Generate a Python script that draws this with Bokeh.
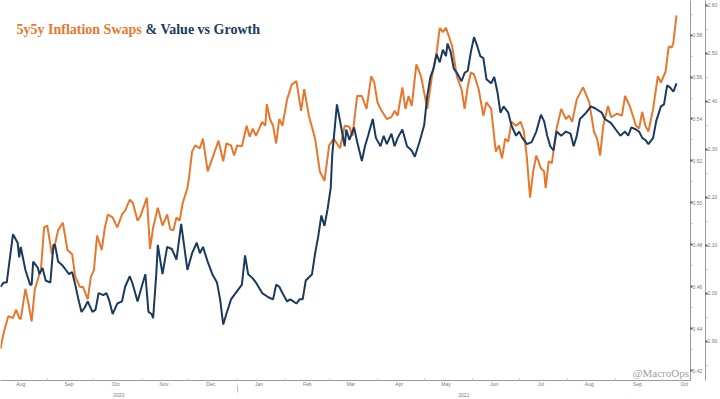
import pandas as pd
from bokeh.plotting import figure
from bokeh.models import (Range1d, LinearAxis, DatetimeAxis, FixedTicker,
                          DatetimeTickFormatter, NumeralTickFormatter, Label)
from bokeh.embed import file_html
from bokeh.resources import INLINE

# ---------------- data ----------------
infl_dates = [
    "2020-08-02", "2020-08-04", "2020-08-07", "2020-08-10", "2020-08-12", "2020-08-14", "2020-08-15",
    "2020-08-18", "2020-08-20", "2020-08-22", "2020-08-24", "2020-08-28", "2020-08-30", "2020-09-01",
    "2020-09-04", "2020-09-06", "2020-09-08", "2020-09-11", "2020-09-14", "2020-09-17", "2020-09-19",
    "2020-09-22", "2020-09-24", "2020-09-27", "2020-09-29", "2020-10-01", "2020-10-03", "2020-10-06",
    "2020-10-08", "2020-10-10", "2020-10-13", "2020-10-16", "2020-10-19", "2020-10-21", "2020-10-24",
    "2020-10-26", "2020-10-29", "2020-10-31", "2020-11-04", "2020-11-06", "2020-11-08", "2020-11-11",
    "2020-11-14", "2020-11-17", "2020-11-19", "2020-11-21", "2020-11-23", "2020-11-25", "2020-11-27",
    "2020-11-30", "2020-12-01", "2020-12-03", "2020-12-05", "2020-12-08", "2020-12-10", "2020-12-13",
    "2020-12-16", "2020-12-20", "2020-12-23", "2020-12-25", "2020-12-28", "2020-12-30", "2021-01-01",
    "2021-01-04", "2021-01-07", "2021-01-09", "2021-01-11", "2021-01-13", "2021-01-17", "2021-01-19",
    "2021-01-20", "2021-01-22", "2021-01-24", "2021-01-26", "2021-01-28", "2021-01-30", "2021-02-02",
    "2021-02-05", "2021-02-08", "2021-02-11", "2021-02-13", "2021-02-16", "2021-02-20", "2021-02-23",
    "2021-02-26", "2021-03-01", "2021-03-04", "2021-03-08", "2021-03-11", "2021-03-14", "2021-03-16",
    "2021-03-19", "2021-03-22", "2021-03-25", "2021-03-28", "2021-03-30", "2021-04-01", "2021-04-03",
    "2021-04-07", "2021-04-10", "2021-04-12", "2021-04-14", "2021-04-17", "2021-04-19", "2021-04-21",
    "2021-04-23", "2021-04-26", "2021-04-29", "2021-05-03", "2021-05-06", "2021-05-09", "2021-05-11",
    "2021-05-13", "2021-05-15", "2021-05-17", "2021-05-19", "2021-05-22", "2021-05-25", "2021-05-27",
    "2021-05-29", "2021-05-31", "2021-06-02", "2021-06-05", "2021-06-08", "2021-06-10", "2021-06-13",
    "2021-06-16", "2021-06-18", "2021-06-20", "2021-06-22", "2021-06-24", "2021-06-26", "2021-06-29",
    "2021-07-02", "2021-07-04", "2021-07-06", "2021-07-08", "2021-07-10", "2021-07-12", "2021-07-15",
    "2021-07-17", "2021-07-18", "2021-07-20", "2021-07-22", "2021-07-25", "2021-07-28", "2021-07-31",
    "2021-08-02", "2021-08-04", "2021-08-07", "2021-08-11", "2021-08-15", "2021-08-18", "2021-08-20",
    "2021-08-22", "2021-08-24", "2021-08-27", "2021-08-29", "2021-09-02", "2021-09-05", "2021-09-07",
    "2021-09-10", "2021-09-14", "2021-09-16", "2021-09-18", "2021-09-20", "2021-09-22", "2021-09-25",
    "2021-09-28", "2021-09-30", "2021-10-03", "2021-10-05", "2021-10-07", "2021-10-08", "2021-10-10",
]
infl_values = [
    1.884, 1.917, 1.952, 1.948, 1.966, 1.948, 1.946,
    2.009, 1.978, 1.941, 2.007, 2.051, 2.137, 2.141,
    2.081, 2.102, 2.131, 2.147, 2.090, 2.081, 2.034,
    2.013, 2.013, 1.987, 2.034, 2.048, 2.120, 2.090,
    2.137, 2.164, 2.158, 2.137, 2.164, 2.172, 2.195,
    2.188, 2.151, 2.162, 2.199, 2.092, 2.137, 2.178,
    2.141, 2.164, 2.133, 2.131, 2.158, 2.151, 2.188,
    2.219, 2.240, 2.295, 2.308, 2.302, 2.322, 2.254,
    2.281, 2.318, 2.275, 2.312, 2.308, 2.287, 2.308,
    2.306, 2.349, 2.326, 2.343, 2.328, 2.357, 2.349,
    2.394, 2.363, 2.349, 2.312, 2.363, 2.349, 2.404,
    2.435, 2.442, 2.380, 2.425, 2.370, 2.322, 2.254,
    2.234, 2.308, 2.322, 2.302, 2.349, 2.347, 2.328,
    2.411, 2.411, 2.384, 2.452, 2.439, 2.398, 2.384,
    2.363, 2.367, 2.380, 2.370, 2.429, 2.384, 2.411,
    2.390, 2.477, 2.452, 2.384, 2.452, 2.501, 2.553,
    2.544, 2.553, 2.534, 2.514, 2.452, 2.425, 2.384,
    2.431, 2.460, 2.456, 2.425, 2.370, 2.398, 2.384,
    2.295, 2.308, 2.281, 2.322, 2.316, 2.357, 2.349,
    2.357, 2.337, 2.281, 2.199, 2.254, 2.287, 2.260,
    2.254, 2.219, 2.275, 2.271, 2.343, 2.384, 2.363,
    2.370, 2.357, 2.404, 2.429, 2.398, 2.337, 2.322,
    2.287, 2.349, 2.390, 2.367, 2.374, 2.370, 2.411,
    2.390, 2.349, 2.343, 2.378, 2.349, 2.337, 2.384,
    2.452, 2.439, 2.462, 2.514, 2.512, 2.522, 2.579,
]

vg_dates = [
    "2020-08-02", "2020-08-04", "2020-08-06", "2020-08-10", "2020-08-13", "2020-08-14", "2020-08-15",
    "2020-08-18", "2020-08-21", "2020-08-22", "2020-08-23", "2020-08-26", "2020-08-27", "2020-08-29",
    "2020-08-31", "2020-09-03", "2020-09-05", "2020-09-06", "2020-09-08", "2020-09-11", "2020-09-13",
    "2020-09-15", "2020-09-17", "2020-09-19", "2020-09-21", "2020-09-23", "2020-09-25", "2020-09-27",
    "2020-09-30", "2020-10-02", "2020-10-04", "2020-10-07", "2020-10-09", "2020-10-11", "2020-10-13",
    "2020-10-16", "2020-10-19", "2020-10-21", "2020-10-24", "2020-10-26", "2020-10-29", "2020-11-01",
    "2020-11-03", "2020-11-05", "2020-11-07", "2020-11-08", "2020-11-10", "2020-11-11", "2020-11-14",
    "2020-11-17", "2020-11-20", "2020-11-23", "2020-11-26", "2020-11-28", "2020-11-30", "2020-12-03",
    "2020-12-06", "2020-12-08", "2020-12-10", "2020-12-13", "2020-12-16", "2020-12-19", "2020-12-21",
    "2020-12-23", "2020-12-25", "2020-12-28", "2021-01-01", "2021-01-04", "2021-01-06", "2021-01-08",
    "2021-01-11", "2021-01-13", "2021-01-17", "2021-01-21", "2021-01-24", "2021-01-26", "2021-01-28",
    "2021-01-30", "2021-02-02", "2021-02-04", "2021-02-06", "2021-02-08", "2021-02-10", "2021-02-12",
    "2021-02-14", "2021-02-18", "2021-02-20", "2021-02-22", "2021-02-24", "2021-02-26", "2021-02-28",
    "2021-03-02", "2021-03-03", "2021-03-06", "2021-03-09", "2021-03-11", "2021-03-12", "2021-03-14",
    "2021-03-17", "2021-03-19", "2021-03-22", "2021-03-24", "2021-03-26", "2021-03-29", "2021-03-31",
    "2021-04-03", "2021-04-05", "2021-04-07", "2021-04-10", "2021-04-12", "2021-04-14", "2021-04-17",
    "2021-04-20", "2021-04-23", "2021-04-25", "2021-04-28", "2021-05-01", "2021-05-03", "2021-05-05",
    "2021-05-07", "2021-05-09", "2021-05-11", "2021-05-13", "2021-05-15", "2021-05-16", "2021-05-18",
    "2021-05-20", "2021-05-22", "2021-05-25", "2021-05-27", "2021-05-29", "2021-05-31", "2021-06-02",
    "2021-06-04", "2021-06-06", "2021-06-08", "2021-06-10", "2021-06-13", "2021-06-15", "2021-06-17",
    "2021-06-19", "2021-06-21", "2021-06-24", "2021-06-26", "2021-06-29", "2021-07-01", "2021-07-03",
    "2021-07-06", "2021-07-09", "2021-07-12", "2021-07-15", "2021-07-17", "2021-07-19", "2021-07-21",
    "2021-07-23", "2021-07-25", "2021-07-28", "2021-07-31", "2021-08-03", "2021-08-05", "2021-08-07",
    "2021-08-09", "2021-08-13", "2021-08-16", "2021-08-19", "2021-08-23", "2021-08-25", "2021-08-29",
    "2021-09-01", "2021-09-04", "2021-09-07", "2021-09-09", "2021-09-11", "2021-09-14", "2021-09-16",
    "2021-09-18", "2021-09-20", "2021-09-22", "2021-09-25", "2021-09-27", "2021-09-30", "2021-10-02",
    "2021-10-04", "2021-10-06", "2021-10-08", "2021-10-10",
]
vg_values = [
    0.460, 0.462, 0.462, 0.485, 0.481, 0.474, 0.479,
    0.468, 0.461, 0.461, 0.472, 0.469, 0.466, 0.469,
    0.463, 0.462, 0.480, 0.480, 0.472, 0.470, 0.468,
    0.466, 0.467, 0.461, 0.454, 0.448, 0.450, 0.453,
    0.448, 0.449, 0.457, 0.456, 0.457, 0.453, 0.447,
    0.452, 0.453, 0.460, 0.465, 0.461, 0.453, 0.461,
    0.466, 0.448, 0.447, 0.445, 0.466, 0.480, 0.466,
    0.479, 0.478, 0.473, 0.490, 0.479, 0.468, 0.476,
    0.481, 0.476, 0.479, 0.472, 0.466, 0.462, 0.454,
    0.442, 0.447, 0.454, 0.458, 0.461, 0.475, 0.466,
    0.464, 0.462, 0.457, 0.455, 0.454, 0.461, 0.460,
    0.457, 0.453, 0.454, 0.453, 0.452, 0.454, 0.454,
    0.463, 0.466, 0.476, 0.484, 0.494, 0.489, 0.497,
    0.507, 0.523, 0.547, 0.535, 0.527, 0.535, 0.530,
    0.536, 0.529, 0.520, 0.527, 0.532, 0.540, 0.531,
    0.527, 0.532, 0.528, 0.533, 0.527, 0.531, 0.535,
    0.527, 0.525, 0.522, 0.529, 0.537, 0.551, 0.560,
    0.564, 0.571, 0.567, 0.573, 0.570, 0.576, 0.572,
    0.564, 0.562, 0.558, 0.562, 0.563, 0.572, 0.579,
    0.575, 0.570, 0.569, 0.559, 0.557, 0.560, 0.553,
    0.543, 0.546, 0.543, 0.537, 0.532, 0.534, 0.531,
    0.528, 0.529, 0.534, 0.542, 0.539, 0.532, 0.527,
    0.525, 0.534, 0.532, 0.534, 0.533, 0.527, 0.532,
    0.540, 0.543, 0.546, 0.545, 0.543, 0.540, 0.538,
    0.535, 0.532, 0.534, 0.532, 0.536, 0.535, 0.534,
    0.531, 0.530, 0.528, 0.531, 0.539, 0.546, 0.547,
    0.556, 0.555, 0.553, 0.557,
]

vg_ticks = [0.42, 0.44, 0.46, 0.48, 0.50, 0.52, 0.54, 0.56, 0.58]
vg_minor_ticks = [0.43, 0.45, 0.47, 0.49, 0.51, 0.53, 0.55, 0.57, 0.59]
infl_ticks = [1.90, 2.00, 2.10, 2.20, 2.30, 2.40, 2.50, 2.60]
infl_minor_ticks = [1.85, 1.95, 2.05, 2.15, 2.25, 2.35, 2.45, 2.55]

title_left = "5y5y Inflation Swaps"
title_right = "& Value vs Growth"
watermark = "@MacroOps"

x_start = "2020-08-02"
x_end = "2021-10-19"
year_break = "2021-01-01"

ORANGE = "#E8772E"
NAVY = "#1A3A5E"
AXIS = "#9A9A9A"
LABEL = "#7A7A7A"

# ---------------- figure ----------------
xs = pd.Timestamp(x_start)
xe = pd.Timestamp(x_end)
yb = pd.Timestamp(year_break)

p = figure(width=720, height=399, x_axis_type="datetime",
           x_range=Range1d(xs, xe), y_range=Range1d(0.4153, 0.5965),
           y_axis_location=None, output_backend="svg", toolbar_location=None,
           min_border=0, min_border_left=0, min_border_right=0,
           min_border_top=0, min_border_bottom=0)
p.extra_y_ranges = {"infl": Range1d(1.818, 2.610)}
p.outline_line_color = None
p.grid.visible = False
p.background_fill_color = "white"
p.border_fill_color = "white"


def ms(t):
    return pd.Timestamp(t).value / 1e6


# month axis (labels centred in each month)
month_starts = pd.date_range(xs.replace(day=1), xe, freq="MS")
mid_months = [ms(m + pd.Timedelta(days=14)) for m in month_starts if xs <= m + pd.Timedelta(days=14) <= xe]
starts_in = [ms(m) for m in month_starts if xs <= m <= xe]
xa = p.xaxis[0]
xa.ticker = FixedTicker(ticks=mid_months, minor_ticks=starts_in)
fmt = "%b"
xa.formatter = DatetimeTickFormatter(milliseconds=fmt, seconds=fmt, minsec=fmt, minutes=fmt,
                                     hourmin=fmt, hours=fmt, days=fmt, months=fmt, years=fmt)
xa.axis_line_color = AXIS
xa.major_tick_out = 0
xa.major_tick_in = 0
xa.minor_tick_out = 0
xa.minor_tick_in = 2
xa.minor_tick_line_color = "#C8C8C8"
xa.major_label_text_font_size = "5px"
xa.major_label_text_color = LABEL
xa.major_label_standoff = 0
xa.axis_label_standoff = 0
xa.axis_label_text_font_size = "0px"

# year axis
mid2020 = ms(xs + (yb - xs) / 2)
mid2021 = ms(yb + (xe - yb) / 2)
ya = DatetimeAxis(ticker=FixedTicker(ticks=[mid2020, mid2021], minor_ticks=[ms(yb)]))
yf = "%Y"
ya.formatter = DatetimeTickFormatter(milliseconds=yf, seconds=yf, minsec=yf, minutes=yf,
                                     hourmin=yf, hours=yf, days=yf, months=yf, years=yf)
ya.axis_line_color = None
ya.major_tick_out = 0
ya.major_tick_in = 0
ya.minor_tick_in = 4
ya.minor_tick_out = 3
ya.minor_tick_line_color = "#BBBBBB"
ya.major_label_text_font_size = "5px"
ya.major_label_text_color = LABEL
ya.major_label_standoff = 0
ya.axis_label_standoff = 0
ya.axis_label_text_font_size = "0px"
p.add_layout(ya, "below")

# right axes
ax_vg = LinearAxis(ticker=FixedTicker(ticks=vg_ticks, minor_ticks=vg_minor_ticks),
                   formatter=NumeralTickFormatter(format="0.00"))
ax_in = LinearAxis(y_range_name="infl",
                   ticker=FixedTicker(ticks=infl_ticks, minor_ticks=infl_minor_ticks),
                   formatter=NumeralTickFormatter(format="0.00"))
for ax in (ax_vg, ax_in):
    ax.axis_line_color = AXIS
    ax.major_tick_line_color = "#555555"
    ax.major_tick_line_width = 2
    ax.major_tick_out = 2
    ax.major_tick_in = 0
    ax.minor_tick_line_color = "#BBBBBB"
    ax.minor_tick_out = 2
    ax.minor_tick_in = 0
    ax.major_label_text_font_size = "5px"
    ax.major_label_text_color = LABEL
    ax.major_label_standoff = 0
    ax.axis_label_standoff = 0
    ax.axis_label_text_font_size = "0px"
p.add_layout(ax_vg, "right")
p.add_layout(ax_in, "right")

# lines
p.line(pd.to_datetime(infl_dates), infl_values, y_range_name="infl",
       line_color=ORANGE, line_width=2)
p.line(pd.to_datetime(vg_dates), vg_values, line_color=NAVY, line_width=2)

# title and watermark
p.add_layout(Label(x=16, y=0.5790, x_units="screen", text=title_left,
                   text_font="Liberation Serif", text_font_style="bold",
                   text_font_size="14px", text_color=ORANGE))
p.add_layout(Label(x=145, y=0.5790, x_units="screen", text=title_right,
                   text_font="Liberation Serif", text_font_style="bold",
                   text_font_size="14px", text_color=NAVY))
p.add_layout(Label(x=xe - pd.Timedelta(days=1), y=0.4158, text=watermark, text_align="right",
                   text_font="Liberation Serif", text_font_size="11px", text_color="#A0A0A0"))

open("out.html", "w").write(file_html(p, INLINE))
